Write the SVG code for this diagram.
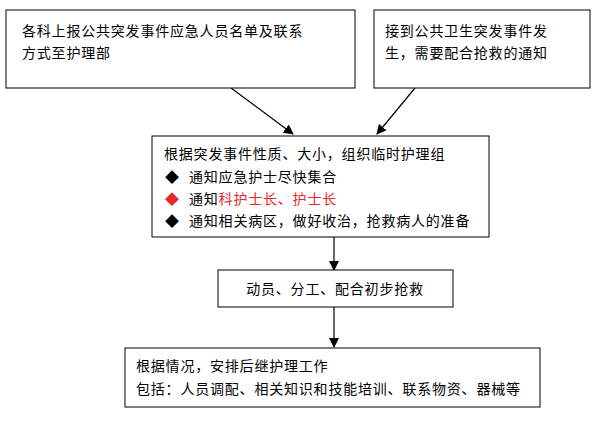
<svg xmlns="http://www.w3.org/2000/svg" width="600" height="431" viewBox="0 0 600 431">
<style>
.b{fill:#fff;stroke:#000;stroke-width:1}
text{font-family:"Liberation Sans","Noto Sans CJK SC",sans-serif;font-size:14px;fill:#000;letter-spacing:0.8px}
.r{fill:#e8272b}
.c line{stroke:#000;stroke-width:1.2}
</style>
<defs><marker id="a" markerWidth="10" markerHeight="10" refX="9" refY="5" orient="auto" markerUnits="userSpaceOnUse"><path d="M0,0L10,5L0,10z"/></marker></defs>
<rect width="600" height="431" fill="#fff"/>
<g class="c">
<line x1="231" y1="88" x2="293" y2="134" marker-end="url(#a)"/>
<line x1="415" y1="88" x2="377" y2="134" marker-end="url(#a)"/>
<line x1="334" y1="237" x2="334" y2="270" marker-end="url(#a)"/>
<line x1="334" y1="307" x2="334" y2="347" marker-end="url(#a)"/>
</g>
<g id="n1"><rect class="b" x="6" y="10" width="349" height="78"/>
<text x="22" y="36">各科上报公共突发事件应急人员名单及联系</text><text x="22" y="58">方式至护理部</text></g>
<g id="n2"><rect class="b" x="374" y="10" width="216" height="78"/>
<text x="385" y="36">接到公共卫生突发事件发</text><text x="385" y="58">生，需要配合抢救的通知</text></g>
<g id="n3"><rect class="b" x="152" y="136" width="337" height="101"/>
<text x="164" y="159">根据突发事件性质、大小，组织临时护理组</text>
<text x="165" y="182">◆</text><text x="189" y="182">通知应急护士尽快集合</text>
<text x="165" y="204" class="r">◆</text><text x="189" y="204">通知<tspan class="r">科护士长、护士长</tspan></text>
<text x="165" y="226">◆</text><text x="189" y="226">通知相关病区，做好收治，抢救病人的准备</text></g>
<g id="n4"><rect class="b" x="218" y="270" width="235" height="37"/>
<text x="335" y="294" text-anchor="middle">动员、分工、配合初步抢救</text></g>
<g id="n5"><rect class="b" x="125" y="348" width="415" height="59"/>
<text x="136" y="371">根据情况，安排后继护理工作</text>
<text x="136" y="394">包括：人员调配、相关知识和技能培训、联系物资、器械等</text></g>
</svg>
